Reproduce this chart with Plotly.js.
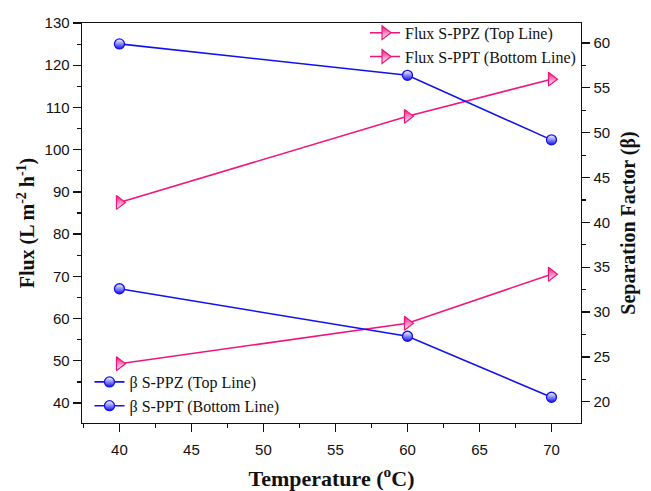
<!DOCTYPE html>
<html>
<head>
<meta charset="utf-8">
<script src="https://cdn.plot.ly/plotly-3.0.1.min.js"></script>
<style>html,body{margin:0;padding:0;background:#fff;}#chart{width:651px;height:491px;}</style>
</head>
<body>
<div id="chart"></div>
<script>
const temperature = [40, 60, 70];
const fluxSPPZ = [87.5, 107.9, 116.7];
const fluxSPPT = [49.3, 58.9, 70.5];
const betaSPPZ = [59.9, 56.4, 49.2];
const betaSPPT = [32.6, 27.3, 20.5];
const names = ['Flux S-PPZ (Top Line)', 'Flux S-PPT (Bottom Line)', 'β S-PPZ (Top Line)', 'β S-PPT (Bottom Line)'];

const pink = '#f0157c';
const blue = '#1212ee';

const traces = [
  {x: temperature, y: fluxSPPZ, name: names[0], mode: 'lines+markers', yaxis: 'y', legend: 'legend',
   line: {color: pink, width: 1.6},
   marker: {symbol: 'triangle-right', size: 12, color: pink, line: {color: pink, width: 1.2},
            gradient: {type: 'vertical', color: '#ffffff'}}},
  {x: temperature, y: fluxSPPT, name: names[1], mode: 'lines+markers', yaxis: 'y', legend: 'legend',
   line: {color: pink, width: 1.6},
   marker: {symbol: 'triangle-right', size: 12, color: pink, line: {color: pink, width: 1.2},
            gradient: {type: 'vertical', color: '#ffffff'}}},
  {x: temperature, y: betaSPPZ, name: names[2], mode: 'lines+markers', yaxis: 'y2', legend: 'legend2',
   line: {color: blue, width: 1.6},
   marker: {symbol: 'circle', size: 10, color: '#ffffff', line: {color: blue, width: 1.3},
            gradient: {type: 'vertical', color: blue}}},
  {x: temperature, y: betaSPPT, name: names[3], mode: 'lines+markers', yaxis: 'y2', legend: 'legend2',
   line: {color: blue, width: 1.6},
   marker: {symbol: 'circle', size: 10, color: '#ffffff', line: {color: blue, width: 1.3},
            gradient: {type: 'vertical', color: blue}}}
];

const tickFont = {family: 'Liberation Sans, Arial, sans-serif', size: 15, color: '#111'};
const serif = 'Liberation Serif, Times New Roman, serif';
const legFont = {family: serif, size: 16, color: '#111'};

const layout = {
  width: 651, height: 491,
  margin: {l: 82, r: 70, t: 23, b: 68},
  paper_bgcolor: '#fff', plot_bgcolor: '#fff',
  showlegend: true,
  xaxis: {
    range: [37.4, 72.05], tickvals: [40, 45, 50, 55, 60, 65, 70],
    ticks: 'outside', ticklen: 8, tickwidth: 1.3, tickcolor: '#111', ticklabelstandoff: 5,
    minor: {dtick: 2.5, tick0: 40, ticks: 'outside', ticklen: 4, tickwidth: 1.2, tickcolor: '#111'},
    showline: true, linecolor: '#111', linewidth: 1.4, mirror: true,
    showgrid: false, zeroline: false, tickfont: tickFont, automargin: false,
    title: {text: 'Temperature (<sup>o</sup>C)', font: {family: serif, size: 22, color: '#111', weight: 'bold'}, standoff: 14}
  },
  yaxis: {
    range: [35.27, 130], tickvals: [40, 50, 60, 70, 80, 90, 100, 110, 120, 130],
    ticks: 'outside', ticklen: 8, tickwidth: 1.3, tickcolor: '#111',
    minor: {dtick: 5, tick0: 40, ticks: 'outside', ticklen: 4, tickwidth: 1.2, tickcolor: '#111'},
    showline: true, linecolor: '#111', linewidth: 1.4,
    showgrid: false, zeroline: false, tickfont: tickFont, automargin: false,
    title: {text: 'Flux (L m<sup>-2</sup> h<sup>-1</sup>)', font: {family: serif, size: 20, color: '#111', weight: 'bold'}, standoff: 4}
  },
  yaxis2: {
    overlaying: 'y', side: 'right',
    range: [17.63, 62.23], tickvals: [20, 25, 30, 35, 40, 45, 50, 55, 60],
    ticks: 'outside', ticklen: 8, tickwidth: 1.3, tickcolor: '#111',
    minor: {dtick: 2.5, tick0: 20, ticks: 'outside', ticklen: 4, tickwidth: 1.2, tickcolor: '#111'},
    showline: true, linecolor: '#111', linewidth: 1.4,
    showgrid: false, zeroline: false, tickfont: tickFont, automargin: false,
    title: {text: 'Separation Factor (β)', font: {family: serif, size: 20, color: '#111', weight: 'bold'}, standoff: 12}
  },
  legend: {
    x: 1, xanchor: 'right', xref: 'paper', y: 1.018, yanchor: 'top', yref: 'paper',
    bgcolor: 'rgba(0,0,0,0)', font: legFont, tracegroupgap: 0, itemwidth: 30
  },
  legend2: {
    x: 0.015, xanchor: 'left', xref: 'paper', y: 0.0, yanchor: 'bottom', yref: 'paper',
    bgcolor: 'rgba(0,0,0,0)', font: legFont, tracegroupgap: 0, itemwidth: 30
  }
};

Plotly.newPlot('chart', traces, layout, {displayModeBar: false, staticPlot: true});
</script>
</body>
</html>
